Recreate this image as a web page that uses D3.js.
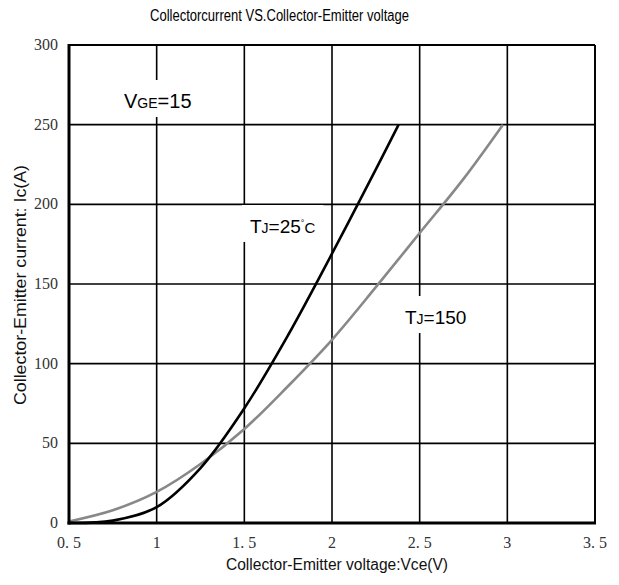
<!DOCTYPE html>
<html><head><meta charset="utf-8">
<script src="https://cdn.jsdelivr.net/npm/d3@7"></script>
<style>body{margin:0;background:#fff}svg{display:block}</style>
</head><body>
<svg id="c" width="619" height="585"></svg>
<script>
const xTicks=[0.5,1,1.5,2,2.5,3,3.5];
const xTickLabels=["0. 5","1","1. 5","2","2. 5","3","3. 5"];
const yTicks=[0,50,100,150,200,250,300];
const yTickLabels=["0","50","100","150","200","250","300"];
const vce25=[0.5,0.75,1.0,1.25,1.5,1.75,2.0,2.25,2.38];
const ic25 =[0,1.5,10,34.5,72,118,169,222,250];
const vce150=[0.5,0.75,1.0,1.25,1.5,1.75,2.0,2.25,2.5,2.75,2.975];
const ic150 =[1,8,19.5,37,59,86,115,148,182,216,250];
const titleText="Collectorcurrent VS.Collector-Emitter voltage";
const xLabel="Collector-Emitter voltage:Vce(V)";
const yLabel="Collector-Emitter current: Ic(A)";

const svg=d3.select("#c");
const L=69,R=595,T=45,B=523;
const x=d3.scaleLinear().domain([0.5,3.5]).range([L,R]);
const y=d3.scaleLinear().domain([0,300]).range([B,T]);

// grid
const g=svg.append("g");
g.selectAll("line.v").data(xTicks.slice(1)).join("line")
 .attr("x1",d=>x(d)).attr("x2",d=>x(d)).attr("y1",T).attr("y2",B)
 .attr("stroke","#000").attr("stroke-width",1.6);
g.selectAll("line.h").data(yTicks.slice(1)).join("line")
 .attr("x1",L).attr("x2",R).attr("y1",d=>y(d)).attr("y2",d=>y(d))
 .attr("stroke","#000").attr("stroke-width",1.6);

// labels with white boxes
function label(px,py,parts){
  const t=svg.append("text").attr("x",px).attr("y",py)
    .attr("font-family","'Liberation Sans',Arial,sans-serif").attr("fill","#000");
  parts.forEach(p=>{
    const s=t.append("tspan").text(p[0]).attr("font-size",p[1]);
    if(p[2]) s.attr("dy",p[2]);
  });
  const bb=t.node().getBBox();
  svg.insert("rect","text").attr("x",bb.x-8).attr("y",py-28).attr("width",bb.width+16).attr("height",37).attr("fill","#fff");
  return t;
}
label(124,108,[["V",20],["GE",14],["=15",20]]);
label(250,233,[["T",19],["J",14],["=25",19],["°",9,-7],["C",15,7]]);
label(405,324,[["T",19],["J",14],["=150",19]]);

// axes borders
svg.append("line").attr("x1",L).attr("x2",R).attr("y1",T).attr("y2",T).attr("stroke","#000").attr("stroke-width",1.8);
svg.append("line").attr("x1",R).attr("x2",R).attr("y1",T).attr("y2",B).attr("stroke","#000").attr("stroke-width",1.8);

// curves
const line=d3.line().curve(d3.curveCatmullRom.alpha(0.5)).x(d=>x(d[0])).y(d=>y(d[1]));
svg.append("path").datum(vce150.map((v,i)=>[v,ic150[i]])).attr("d",line)
 .attr("fill","none").attr("stroke","#888").attr("stroke-width",2.6);
svg.append("path").datum(vce25.map((v,i)=>[v,ic25[i]])).attr("d",line)
 .attr("fill","none").attr("stroke","#000").attr("stroke-width",2.6);

svg.append("line").attr("x1",L).attr("x2",L).attr("y1",T-1).attr("y2",B+1.5).attr("stroke","#000").attr("stroke-width",3);
svg.append("line").attr("x1",L-1.5).attr("x2",R+1).attr("y1",B).attr("y2",B).attr("stroke","#000").attr("stroke-width",3);

// tick labels
svg.selectAll("text.xt").data(xTicks).join("text").attr("class","xt")
 .attr("x",d=>x(d)).attr("y",548).attr("text-anchor","middle")
 .attr("font-family","'Liberation Serif','Times New Roman',serif").attr("font-size",16).attr("fill","#333")
 .text((d,i)=>xTickLabels[i]);
svg.selectAll("text.yt").data(yTicks).join("text").attr("class","yt")
 .attr("x",58).attr("y",d=>y(d)+5).attr("text-anchor","end")
 .attr("font-family","'Liberation Serif','Times New Roman',serif").attr("font-size",16).attr("fill","#333")
 .text((d,i)=>yTickLabels[i]);

// titles
svg.append("text").attr("x",150).attr("y",21).attr("font-family","'Liberation Sans',Arial,sans-serif")
 .attr("font-size",16).attr("textLength",259).attr("lengthAdjust","spacingAndGlyphs").text(titleText);
svg.append("text").attr("x",226).attr("y",570).attr("font-family","'Liberation Sans',Arial,sans-serif")
 .attr("font-size",16).attr("textLength",222).attr("lengthAdjust","spacingAndGlyphs").attr("fill","#111").text(xLabel);
svg.append("text").attr("transform","translate(26,405) rotate(-90)").attr("font-family","'Liberation Sans',Arial,sans-serif")
 .attr("font-size",16).attr("textLength",240).attr("lengthAdjust","spacingAndGlyphs").attr("fill","#111").text(yLabel);
</script>
</body></html>
